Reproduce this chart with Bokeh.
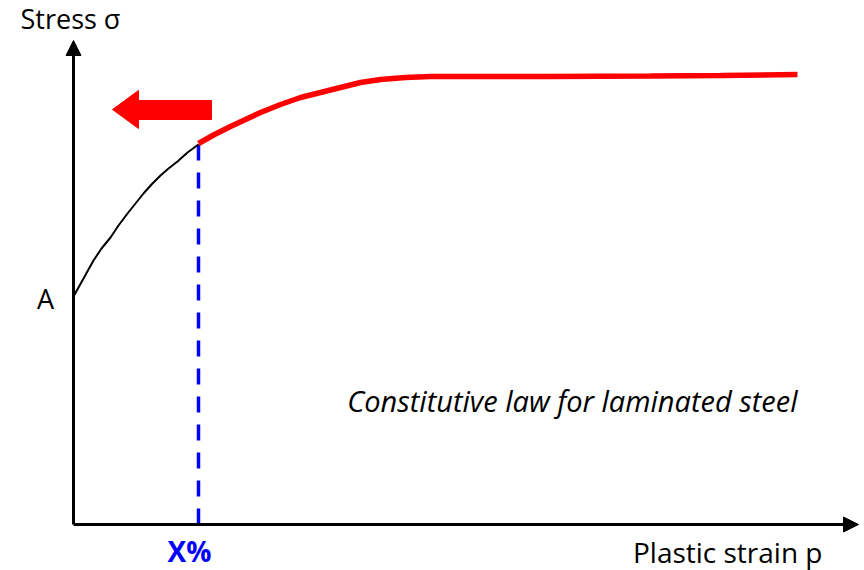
from bokeh.plotting import figure
from bokeh.models import Range1d, Arrow, NormalHead
from bokeh.core.properties import value
from bokeh.embed import file_html
from bokeh.resources import INLINE

# Schematic curve, in plastic strain / stress units (arbitrary)
black_strain = [0, 10, 20, 28, 37, 45, 54, 62, 70, 78, 87, 95, 104, 114, 125]
black_stress = [228, 246, 264, 276, 287, 299, 311, 321, 331, 340, 349, 356, 363, 372, 380]

red_strain = [125, 141, 157, 172, 187, 207, 227, 247, 267, 287, 307, 332, 357, 407, 477, 577, 647, 724]
red_stress = [381, 390, 398, 405, 412, 420, 427, 432, 437, 442, 445, 447, 448, 448, 448, 448.5, 449, 450]

x_mark = 125            # X% strain
y_A = 228               # stress A at zero strain
x_max, y_max = 785, 484  # axis extents

# red "decrease" arrow outline (same units)
arrow_x = [39, 65, 65, 138, 138, 65, 65]
arrow_y = [415, 434, 424, 424, 405, 405, 396]

FONT = "Open Sans"

p = figure(width=864, height=570, output_backend="svg", toolbar_location=None,
           x_range=Range1d(-73, 791), y_range=Range1d(-46, 524),
           min_border=0, min_border_left=0, min_border_right=0,
           min_border_top=0, min_border_bottom=0)
p.axis.visible = False
p.grid.visible = False
p.outline_line_color = None
p.background_fill_color = "white"
p.border_fill_color = "white"

# axes with arrowheads
p.add_layout(Arrow(end=NormalHead(size=15, fill_color="black", line_color="black"),
                   x_start=0, y_start=0, x_end=x_max, y_end=0,
                   line_width=3, line_color="black"))
p.add_layout(Arrow(end=NormalHead(size=15, fill_color="black", line_color="black"),
                   x_start=0, y_start=0, x_end=0, y_end=y_max,
                   line_width=3, line_color="black"))

# dashed X% line
p.line([x_mark, x_mark], [0, black_stress[-1]], line_color="#0000ff",
       line_width=3.5, line_dash="16 12")

p.line(black_strain, black_stress, line_color="black", line_width=2)
p.line(red_strain, red_stress, line_color="#ff0000", line_width=5.5)

p.patch(arrow_x, arrow_y, fill_color="#ff0000", line_color="#ff0000")

p.text([-53], [506], text=["Stress σ"], text_font=value(FONT), text_font_size="27px",
       text_align="left", text_baseline="middle", text_color="black")
p.text([-28], [y_A - 2], text=["A"], text_font=value(FONT), text_font_size="27px",
       text_align="center", text_baseline="middle", text_color="black")
p.text([x_mark - 9], [-26], text=["X%"], text_font=value(FONT), text_font_size="28px",
       text_font_style="bold", text_align="center", text_baseline="middle",
       text_color="#0000ff")
p.text([749], [-27], text=["Plastic strain p"], text_font=value(FONT), text_font_size="28px",
       text_align="right", text_baseline="middle", text_color="black")
p.text([724], [124], text=["Constitutive law for laminated steel"], text_font=value(FONT),
       text_font_size="29px", text_font_style="italic", text_align="right",
       text_baseline="middle", text_color="black")

open("out.html", "w").write(file_html(p, INLINE))
